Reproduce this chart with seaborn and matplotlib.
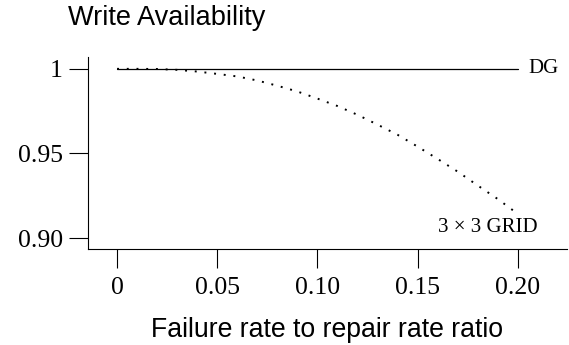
import numpy as np
import pandas as pd
import matplotlib
matplotlib.use("Agg")
import matplotlib.pyplot as plt
import seaborn as sns

# data
ratio = [0.0, 0.01, 0.02, 0.03, 0.04, 0.05, 0.06, 0.07, 0.08, 0.09, 0.10,
         0.11, 0.12, 0.13, 0.14, 0.15, 0.16, 0.17, 0.18, 0.19, 0.20]
dg_avail = [1.0] * len(ratio)
grid_avail = [1.0, 1.0, 0.9999, 0.9994, 0.9984, 0.997, 0.9955, 0.9931, 0.990,
              0.9866, 0.9824, 0.978, 0.9728, 0.967, 0.961, 0.954, 0.9467,
              0.9392, 0.931, 0.923, 0.9142]

x_ticks = [0, 0.05, 0.10, 0.15, 0.20]
x_labels = ["0", "0.05", "0.10", "0.15", "0.20"]
y_ticks = [0.90, 0.95, 1.0]
y_labels = ["0.90", "0.95", "1"]

sns.set_theme(style="ticks")
plt.rcParams["font.family"] = ["Liberation Serif", "DejaVu Serif"]

df = pd.DataFrame({"ratio": ratio, "DG": dg_avail, "GRID": grid_avail})

fig = plt.figure(figsize=(5.69, 3.45), dpi=100)
ax = fig.add_axes([88 / 569, 1 - 249 / 345, (567 - 88) / 569, (249 - 57) / 345])

sns.lineplot(data=df, x="ratio", y="DG", ax=ax, color="black", linewidth=0.9)
sns.lineplot(data=df, x="ratio", y="GRID", ax=ax, color="black",
             linewidth=1.4, linestyle=(0, (1, 4)))

ax.set_xlim(-0.0145, 0.2245)
ax.set_ylim(0.8935, 1.007)
ax.set_xticks(x_ticks)
ax.set_xticklabels(x_labels)
ax.set_yticks(y_ticks)
ax.set_yticklabels(y_labels)
ax.tick_params(axis="both", direction="out", length=14, width=0.8,
               color="black", labelsize=18.5, pad=4, labelcolor="black")
ax.tick_params(axis="x", pad=6)

for side in ["top", "right"]:
    ax.spines[side].set_visible(False)
for side in ["left", "bottom"]:
    ax.spines[side].set_linewidth(0.8)
    ax.spines[side].set_color("black")

ax.set_ylabel("")
ax.set_xlabel("Failure rate to repair rate ratio", family=["Liberation Sans"],
              fontsize=19.2, color="black")
ax.xaxis.label.set_va("baseline")
ax.xaxis.set_label_coords(0.5, (249 - 337) / 192)

# line labels
ax.text(0.205, 1.0, "DG", ha="left", va="center", fontsize=15, color="black")
ax.text(0.21, 0.906, "3 \u00d7 3 GRID", ha="right", va="center", fontsize=15,
        color="black")

fig.text(68 / 569, 1 - 25 / 345, "Write Availability", family=["Liberation Sans"],
         fontsize=19.5, ha="left", va="baseline", color="black")

fig.savefig("out.png", dpi=100)
